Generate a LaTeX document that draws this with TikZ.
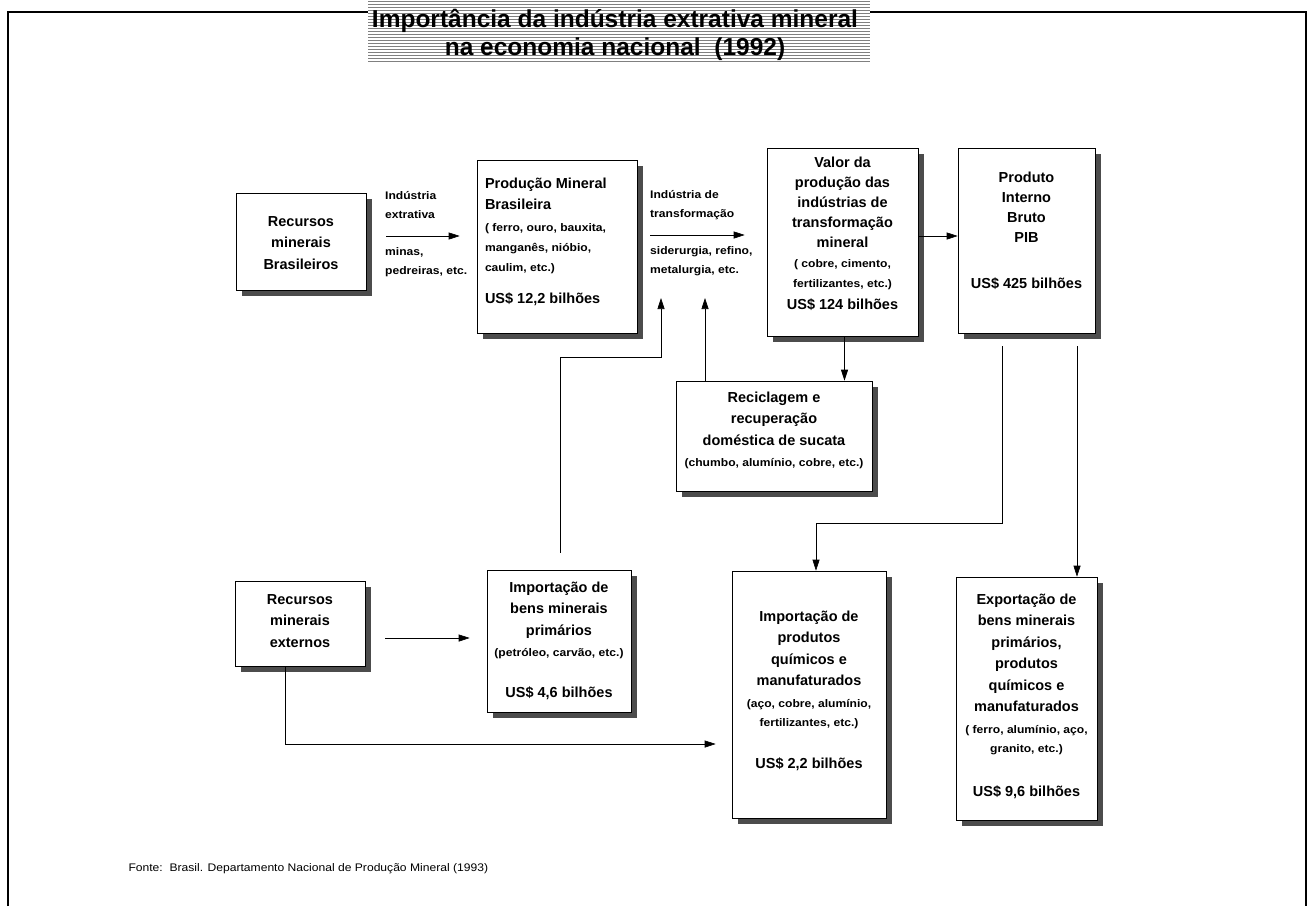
\documentclass[tikz,border=0pt]{standalone}
\usepackage{fontspec}
\setmainfont{Liberation Sans}
\newfontfamily\widesans[FakeStretch=1.1]{Liberation Sans}
\usetikzlibrary{arrows.meta,positioning,calc,shadows}
\newcommand{\mainfnt}{\fontsize{14.5}{21.5}\selectfont\bfseries}
\newcommand{\smallfnt}{\fontsize{11}{21.5}\selectfont\widesans\bfseries}
% box body: width, height, top gap, text
\newcommand{\boxbody}[4]{\parbox[c][#2pt][t]{#1pt}{\mainfnt\centering\vspace*{#3pt}#4}}

\begin{document}
\begin{tikzpicture}[x=1pt,y=-1pt,
  sbox/.style={draw,line width=0.6pt,fill=white,inner sep=0pt,
    general shadow={fill=black!70,shadow xshift=6pt,shadow yshift=-6pt}},
  arr/.style={-{Triangle[length=11pt,width=7pt]},line width=0.6pt},
  lbl/.style={anchor=west,align=left,inner sep=0pt,font=\fontsize{11}{19}\selectfont\widesans\bfseries}]
  \useasboundingbox (0,0) rectangle (1314,906);
  \draw[line width=1.2pt] (8,906) -- (8,12) -- (1306,12) -- (1306,906);

  % title
  \fill[white] (368,0) rectangle (870,62);
  \foreach \yy in {1.5,4.5,...,61.5} \draw[black!50,line width=0.9pt] (368,\yy) -- (870,\yy);
  \node[align=center,font=\fontsize{24.5}{28}\selectfont\bfseries] (title) at (615,35)
    {Importância da indústria extrativa mineral\\na economia nacional\ \ (1992)};

  % top row
  \node[sbox] (recbr) at (301,241.5) {\boxbody{130}{97}{23.5}{Recursos\\minerais\\Brasileiros}};
  \node[sbox] (prod) at (557,246.5) {\parbox[c][173pt][t]{160pt}{\mainfnt\raggedright\leftskip=8pt\relax
    \vspace*{17.5pt}Produção Mineral\\Brasileira\\[0pt]
    {\smallfnt ( ferro, ouro, bauxita,\\[-1.5pt]manganês, nióbio,\\[-1.5pt]caulim, etc.)}\\[11pt]US\$ 12,2 bilhões}};
  \node[sbox] (valor) at (842.5,242) {\boxbody{151}{188}{8.5}{Valor da\\[-1.5pt]produção das\\[-1.5pt]indústrias de\\[-1.5pt]transformação\\[-1pt]mineral\\[-1.5pt]
    {\smallfnt ( cobre, cimento,\\[-1.5pt]fertilizantes, etc.)}\\[0pt]US\$ 124 bilhões}};
  \node[sbox] (pib) at (1026.5,240.5) {\boxbody{137}{185}{23.5}{Produto\\[-1.5pt]Interno\\[-1.5pt]Bruto\\[-1pt]PIB\\[24pt]US\$ 425 bilhões}};
  \node[sbox] (recic) at (774,436) {\boxbody{196}{110}{10.5}{Reciclagem e\\recuperação\\doméstica de sucata\\
    {\smallfnt (chumbo, alumínio, cobre, etc.)}}};

  % bottom row
  \node[sbox] (recext) at (300,623.5) {\boxbody{130}{85}{13.5}{Recursos\\minerais\\externos}};
  \node[sbox] (impbens) at (559,641) {\boxbody{144}{142}{11.5}{Importação de\\bens minerais\\primários\\
    {\smallfnt (petróleo, carvão, etc.)}\\[19pt]US\$ 4,6 bilhões}};
  \node[sbox] (impprod) at (809,694.5) {\boxbody{154}{247}{39.5}{Importação de\\produtos\\químicos e\\manufaturados\\
    {\smallfnt (aço, cobre, alumínio,\\[-2.5pt]fertilizantes, etc.)}\\[21pt]US\$ 2,2 bilhões}};
  \node[sbox] (export) at (1026.5,698.5) {\boxbody{141}{243}{16.5}{Exportação de\\bens minerais\\primários,\\produtos\\químicos e\\manufaturados\\
    {\smallfnt ( ferro, alumínio, aço,\\[-2.5pt]granito, etc.)}\\[23pt]US\$ 9,6 bilhões}};

  % flow labels
  \node[lbl] (lblext) at (385,205) {Indústria\\extrativa};
  \node[lbl] (lblmin) at (385,262) {minas,\\pedreiras, etc.};
  \node[lbl] (lbltra) at (650,205) {Indústria de\\transformação};
  \node[lbl] (lblsid) at (650,261) {siderurgia, refino,\\metalurgia, etc.};
  \coordinate (tipA) at (661,298);
  \coordinate (tipB) at (705,298);

  % connectors
  \draw[arr,shorten <=20pt,shorten >=17pt] ([yshift=5.5pt]recbr.east) -- ([yshift=5.5pt]recbr.east -| prod.west);
  \draw[arr,shorten <=13pt,shorten >=22pt] ([yshift=11.5pt]prod.east) -- ([yshift=11.5pt]prod.east -| valor.west);
  \draw[arr] ([yshift=6pt]valor.east) -- ([yshift=6pt]valor.east -| pib.west);
  \draw[arr] ([xshift=2pt]valor.south) -- ([xshift=2pt]valor.south |- recic.north);
  \draw[arr] (recic.north -| tipB) -- (tipB);
  \draw[arr,shorten <=17pt] ([xshift=1pt]impbens.north) -- ++(0,-212) -| (tipA);
  \draw[arr,shorten <=13pt] ([xshift=-24.5pt]pib.south) -- ++(0,190) -| ([xshift=7pt]impprod.north);
  \draw[arr,shorten <=13pt] ([xshift=50.5pt]pib.south) -- ([xshift=50.5pt]pib.south |- export.north);
  \draw[arr,shorten <=20pt,shorten >=17pt] ([yshift=-14.5pt]recext.east) -- ([yshift=-14.5pt]recext.east -| impbens.west);
  \draw[arr,shorten >=16pt] ([xshift=-15pt]recext.south) |- ([yshift=-49.5pt]impprod.west);

  \node[anchor=west,font=\fontsize{11}{13}\selectfont\widesans] (fonte) at (125,869)
    {Fonte:\ \ Brasil. Departamento Nacional de Produção Mineral (1993)};
\end{tikzpicture}
\end{document}
